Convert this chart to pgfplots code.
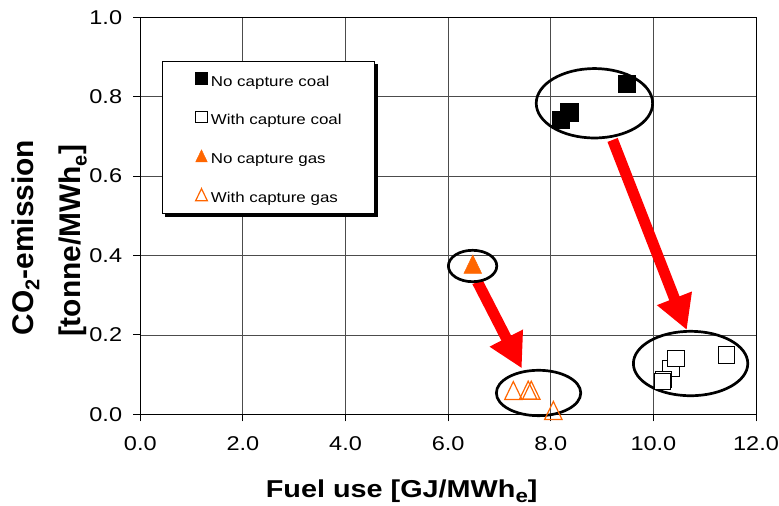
\documentclass[border=0pt]{standalone}
\usepackage{pgfplots}
\pgfplotsset{compat=1.18}
\usepackage{fontspec}
\setmainfont{Liberation Sans}[FakeStretch=1.18]
\newfontfamily\ylabfont{Liberation Sans}
\usetikzlibrary{arrows.meta,shadows}
\definecolor{orng}{HTML}{FF6600}
\pgfplotsset{
  legsqA/.style={legend image code/.code={\path (-6bp,0bp) (6bp,0bp); \draw[##1, mark size=5.8bp, overlay] plot coordinates {(0bp,1bp)};}},
  legsqB/.style={legend image code/.code={\path (-6bp,0bp) (6bp,0bp); \draw[##1, mark size=5.6bp, overlay] plot coordinates {(0bp,1bp)};}},
  legtri/.style={legend image code/.code={\path (-6bp,0bp) (6bp,0bp); \draw[##1, mark size=6.7bp, overlay] plot coordinates {(0bp,2bp)};}},
}
\begin{document}
\begin{tikzpicture}
\useasboundingbox (0,0) rectangle (779bp,506bp);
\begin{axis}[
  at={(140.3bp,91.6bp)}, anchor=south west,
  scale only axis, width=615.7bp, height=397.2bp,
  xmin=0, xmax=12, ymin=0, ymax=1,
  xtick={0,2,4,6,8,10,12}, ytick={0,0.2,0.4,0.6,0.8,1},
  grid=major,
  major grid style={line width=0.9bp, black!70},
  axis line style={line width=1bp, black},
  tick align=outside, major tick length=7bp,
  every tick/.style={line width=1bp, black},
  xtick pos=bottom, ytick pos=left,
  /pgf/number format/assume math mode=true,
  /pgf/number format/fixed, /pgf/number format/fixed zerofill, /pgf/number format/precision=1,
  tick label style={font=\fontsize{20}{24}\selectfont},
  xticklabel style={anchor=north, inner sep=0pt, yshift=-15bp},
  yticklabel style={anchor=east, inner sep=0pt, xshift=-11bp},
  legend style={at={(axis cs:0.417,0.890)}, anchor=north west, draw=black, line width=0.8bp, fill=white,
    font=\fontsize{14.4}{17}\selectfont, inner xsep=33bp, inner ysep=11.5bp, row sep=25.2bp, column sep=3bp,
    nodes={inner sep=0pt, text height=13.3bp, text depth=0.2bp},
    drop shadow={shadow xshift=3bp, shadow yshift=-3bp, fill=black, opacity=1}},
  legend cell align=left,
  clip=false,
]
% arrows
\draw[red, line width=11bp, -{Triangle[length=34bp,width=35bp]}] (axis cs:9.205,0.691) -- (axis cs:10.651,0.2125);
\draw[red, line width=11bp, -{Triangle[length=34bp,width=35bp]}] (axis cs:6.569,0.334) -- (axis cs:7.435,0.116);

\addplot[only marks, mark=square*, mark size=8.7bp, mark options={fill=black, draw=black, line width=0.5bp}, legsqA]
  coordinates {(8.19,0.742) (8.36,0.761) (9.48,0.832)};
\addlegendentry{No capture coal}

\addplot[only marks, mark=square*, mark size=8.2bp, mark options={fill=white, draw=black, line width=1bp}, legsqB]
  coordinates {(10.34,0.115) (10.20,0.088) (10.18,0.083) (10.44,0.140) (11.43,0.150)};
\addlegendentry{With capture coal}

\addplot[only marks, mark=triangle*, mark size=10.2bp, mark options={fill=orng, draw=orng, line width=0.5bp, yshift=-3bp, yscale=1.2}, legtri]
  coordinates {(6.48,0.378)};
\addlegendentry{No capture gas}

\addplot[only marks, mark=triangle, mark size=10bp, mark options={draw=orng, line width=1.2bp, yshift=-3bp, yscale=1.2}, legtri]
  coordinates {(7.27,0.060) (7.56,0.061) (7.62,0.061) (8.05,0.010)};
\addlegendentry{With capture gas}

% ellipses
\draw[black, line width=2.7bp] (axis cs:8.851,0.7833) ellipse [x radius=58.2bp, y radius=34.7bp];
\draw[black, line width=2.7bp] (axis cs:10.725,0.1281) ellipse [x radius=57.2bp, y radius=32.2bp];
\draw[black, line width=2.7bp] (axis cs:6.476,0.3736) ellipse [x radius=24.2bp, y radius=15.7bp];
\draw[black, line width=2.7bp] (axis cs:7.762,0.0539) ellipse [x radius=42.2bp, y radius=22.7bp];
\end{axis}
\node[anchor=base, font=\bfseries\fontsize{24.5}{29}\selectfont] at (401.7bp, 8.7bp) {Fuel use [GJ/MWh\raisebox{-5bp}{\fontsize{19}{19}\selectfont e}]};
\node[rotate=90, anchor=base, font=\ylabfont\bfseries\fontsize{30}{36}\selectfont] at (33.3bp, 268.5bp) {CO\raisebox{-6bp}{\fontsize{20}{20}\selectfont 2}-emission};
\node[rotate=90, anchor=base, font=\ylabfont\bfseries\fontsize{30}{36}\selectfont] at (80.7bp, 265bp) {[tonne/MWh\raisebox{-6bp}{\fontsize{20}{20}\selectfont e}]};
\end{tikzpicture}
\end{document}
